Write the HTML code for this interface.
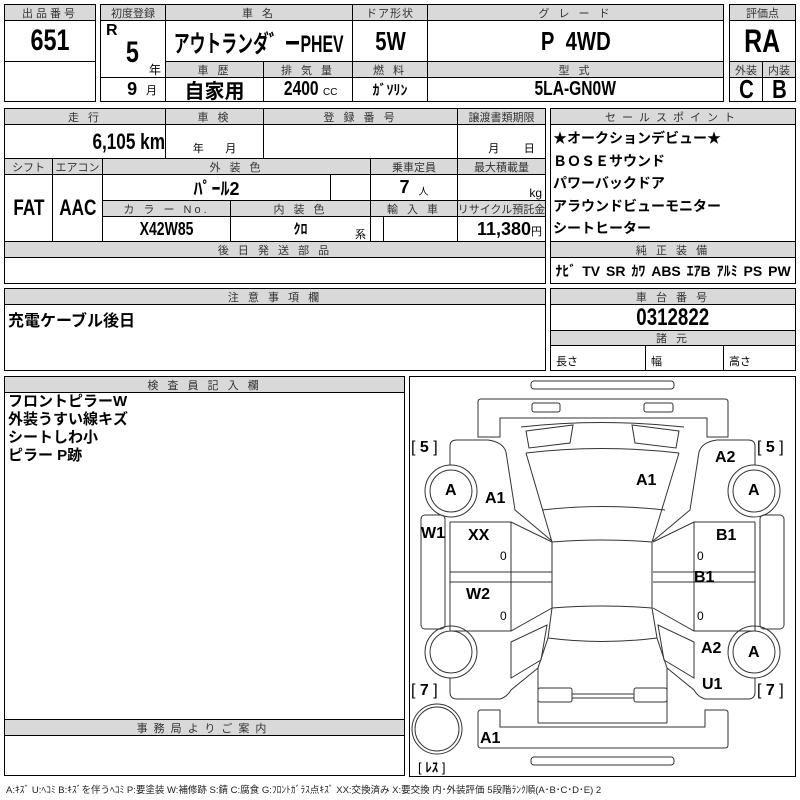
<!DOCTYPE html>
<html><head><meta charset="utf-8">
<style>
*{margin:0;padding:0;box-sizing:border-box}
body{width:800px;height:800px;background:#fff;position:relative;overflow:hidden;font-family:"Liberation Sans","Noto Sans CJK JP",sans-serif;color:#000}
.c{position:absolute;border:1px solid #000;display:flex;align-items:center;justify-content:center;white-space:nowrap;overflow:hidden}
.h{background:#d9d9d9;font-size:11px;letter-spacing:3px;color:#333;font-family:"Liberation Sans","Noto Sans CJK JP",sans-serif}
.b{font-weight:bold;font-size:26px}
.m{font-weight:bold;font-size:18px}
.t{position:absolute;white-space:nowrap}
.j{font-family:"Liberation Sans","Noto Sans CJK JP",sans-serif}
.n{display:inline-block;transform:scaleX(.78)}
</style></head><body>
<!-- box 1 -->
<div class="c" style="left:4px;top:4px;width:92px;height:98px"></div>
<div class="c h" style="left:4px;top:4px;width:92px;height:17px">出品番号</div>
<div class="c b" style="left:4px;top:20px;width:92px;height:42px;font-size:30px"><span class="n">651</span></div>
<!-- box 2 -->
<div class="c" style="left:100px;top:4px;width:624px;height:98px"></div>
<div class="c h" style="left:100px;top:4px;width:66px;height:17px;letter-spacing:0">初度登録</div>
<div class="c h" style="left:165px;top:4px;width:188px;height:17px">車 名</div>
<div class="c h" style="left:352px;top:4px;width:76px;height:17px;letter-spacing:1px">ドア形状</div>
<div class="c h" style="left:427px;top:4px;width:297px;height:17px">グ レ ー ド</div>
<div class="c" style="left:100px;top:20px;width:66px;height:58px"></div>
<div class="t m" style="left:106px;top:22px;font-size:16px">R</div>
<div class="t b" style="left:124px;top:36px;font-size:30px"><span class="n">5</span></div>
<div class="t j" style="left:149px;top:61px;font-size:12px">年</div>
<div class="c" style="left:100px;top:77px;width:66px;height:25px;justify-content:flex-end;padding-right:8px"><span class="m">9</span>&nbsp;&nbsp;<span class="j" style="font-size:11px">月</span></div>
<div class="c b j" style="left:165px;top:20px;width:188px;height:42px;font-size:24px"><span style="display:inline-block;transform:scaleX(.66)">アウトランダ゛ーPHEV</span></div>
<div class="c b" style="left:352px;top:20px;width:76px;height:42px"><span class="n">5W</span></div>
<div class="c b" style="left:427px;top:20px;width:297px;height:42px"><span class="n">P&nbsp;&nbsp;4WD</span></div>
<div class="c h" style="left:165px;top:61px;width:99px;height:17px">車 歴</div>
<div class="c h" style="left:263px;top:61px;width:90px;height:17px">排 気 量</div>
<div class="c h" style="left:352px;top:61px;width:76px;height:17px">燃 料</div>
<div class="c h" style="left:427px;top:61px;width:297px;height:17px">型 式</div>
<div class="c m j" style="left:165px;top:77px;width:99px;height:25px;font-size:20px">自家用</div>
<div class="c" style="left:263px;top:77px;width:90px;height:25px"><span class="m n" style="font-size:20px">2400</span><span style="font-size:10px;margin-top:6px">CC</span></div>
<div class="c j" style="left:352px;top:77px;width:76px;height:25px;font-size:14px;font-weight:bold">ｶﾞｿﾘﾝ</div>
<div class="c m" style="left:427px;top:77px;width:297px;height:25px;font-size:20px"><span class="n">5LA-GN0W</span></div>
<!-- 評価点 -->
<div class="c" style="left:729px;top:4px;width:67px;height:98px"></div>
<div class="c h" style="left:729px;top:4px;width:67px;height:17px;letter-spacing:0">評価点</div>
<div class="c b" style="left:729px;top:20px;width:67px;height:42px;font-size:32px"><span class="n">RA</span></div>
<div class="c h" style="left:729px;top:61px;width:34px;height:17px;letter-spacing:0">外装</div>
<div class="c h" style="left:762px;top:61px;width:34px;height:17px;letter-spacing:0">内装</div>
<div class="c b" style="left:729px;top:77px;width:34px;height:25px"><span class="n">C</span></div>
<div class="c b" style="left:762px;top:77px;width:34px;height:25px"><span class="n">B</span></div>
<!-- section 2 -->
<div class="c" style="left:4px;top:108px;width:542px;height:176px"></div>
<div class="c h" style="left:4px;top:108px;width:162px;height:17px">走 行</div>
<div class="c h" style="left:165px;top:108px;width:99px;height:17px">車 検</div>
<div class="c h" style="left:263px;top:108px;width:195px;height:17px">登 録 番 号</div>
<div class="c h" style="left:457px;top:108px;width:89px;height:17px;letter-spacing:0">譲渡書類期限</div>
<div class="c" style="left:4px;top:124px;width:162px;height:35px;justify-content:flex-end;padding-right:0"><span class="m n" style="font-size:22px;transform-origin:right">6,105 km</span></div>
<div class="c j" style="left:165px;top:124px;width:99px;height:35px;font-size:11px;align-items:flex-end;padding-bottom:2px">年&nbsp;&nbsp;&nbsp;&nbsp;&nbsp;&nbsp;&nbsp;月</div>
<div class="c" style="left:263px;top:124px;width:195px;height:35px"></div>
<div class="c j" style="left:457px;top:124px;width:89px;height:35px;font-size:11px;align-items:flex-end;padding-bottom:2px;padding-left:20px">月&nbsp;&nbsp;&nbsp;&nbsp;&nbsp;&nbsp;&nbsp;&nbsp;日</div>
<div class="c h" style="left:4px;top:158px;width:49px;height:17px;letter-spacing:0">シフト</div>
<div class="c h" style="left:52px;top:158px;width:51px;height:17px;letter-spacing:0">エアコン</div>
<div class="c h" style="left:102px;top:158px;width:269px;height:17px">外 装 色</div>
<div class="c h" style="left:370px;top:158px;width:88px;height:17px;letter-spacing:0">乗車定員</div>
<div class="c h" style="left:457px;top:158px;width:89px;height:17px;letter-spacing:0">最大積載量</div>
<div class="c m" style="left:4px;top:174px;width:49px;height:68px;font-size:22px"><span class="n">FAT</span></div>
<div class="c m" style="left:52px;top:174px;width:51px;height:68px;font-size:22px"><span class="n">AAC</span></div>
<div class="c m j" style="left:102px;top:174px;width:229px;height:27px">ﾊﾟｰﾙ2</div>
<div class="c" style="left:330px;top:174px;width:41px;height:27px"></div>
<div class="c" style="left:370px;top:174px;width:88px;height:27px"><span class="m">7</span>&nbsp;&nbsp;<span class="j" style="font-size:10px;margin-top:6px">人</span></div>
<div class="c" style="left:457px;top:174px;width:89px;height:27px;justify-content:flex-end;padding-right:3px;align-items:flex-end;font-size:12px">kg</div>
<div class="c h" style="left:102px;top:200px;width:129px;height:17px">カ ラ ー No.</div>
<div class="c h" style="left:230px;top:200px;width:141px;height:17px">内 装 色</div>
<div class="c h" style="left:370px;top:200px;width:88px;height:17px">輸 入 車</div>
<div class="c h" style="left:457px;top:200px;width:89px;height:17px;letter-spacing:0">リサイクル預託金</div>
<div class="c m" style="left:102px;top:216px;width:129px;height:26px;font-size:18px"><span class="n">X42W85</span></div>
<div class="c m j" style="left:230px;top:216px;width:141px;height:26px;font-size:14px">ｸﾛ</div>
<div class="t j" style="left:355px;top:226px;font-size:11px">系</div>
<div class="c" style="left:370px;top:216px;width:14px;height:26px"></div>
<div class="c" style="left:383px;top:216px;width:75px;height:26px"></div>
<div class="c" style="left:457px;top:216px;width:89px;height:26px;justify-content:flex-end;padding-right:3px"><span class="m">11,380</span><span class="j" style="font-size:11px;margin-top:4px">円</span></div>
<div class="c h" style="left:4px;top:241px;width:542px;height:17px">後 日 発 送 部 品</div>
<!-- sales -->
<div class="c" style="left:550px;top:108px;width:246px;height:176px"></div>
<div class="c h" style="left:550px;top:108px;width:246px;height:17px;letter-spacing:6px">セールスポイント</div>
<div class="t j" style="left:553px;top:127px;font-size:14px;font-weight:bold;line-height:22.5px">★オークションデビュー★<br>ＢＯＳＥサウンド<br>パワーバックドア<br>アラウンドビューモニター<br>シートヒーター</div>
<div class="c h" style="left:550px;top:241px;width:246px;height:17px">純 正 装 備</div>
<div class="c j" style="left:550px;top:257px;width:246px;height:27px;font-weight:bold;font-size:14px;word-spacing:2px">ﾅﾋﾞ TV SR ｶﾜ ABS ｴｱB ｱﾙﾐ PS PW</div>
<!-- section 3 -->
<div class="c" style="left:4px;top:288px;width:542px;height:83px"></div>
<div class="c h" style="left:4px;top:288px;width:542px;height:17px">注 意 事 項 欄</div>
<div class="t j" style="left:8px;top:307px;font-size:16px;font-weight:bold">充電ケーブル後日</div>
<div class="c" style="left:550px;top:288px;width:246px;height:83px"></div>
<div class="c h" style="left:550px;top:288px;width:246px;height:17px">車 台 番 号</div>
<div class="c b" style="left:550px;top:304px;width:246px;height:27px;font-size:24px"><span class="n">0312822</span></div>
<div class="c h" style="left:550px;top:330px;width:246px;height:16px">諸 元</div>
<div class="c j" style="left:550px;top:345px;width:96px;height:26px;justify-content:flex-start;padding-left:5px;font-size:11px;padding-top:6px">長さ</div>
<div class="c j" style="left:645px;top:345px;width:79px;height:26px;justify-content:flex-start;padding-left:5px;font-size:11px;padding-top:6px">幅</div>
<div class="c j" style="left:723px;top:345px;width:73px;height:26px;justify-content:flex-start;padding-left:5px;font-size:11px;padding-top:6px">高さ</div>
<!-- section 4 -->
<div class="c" style="left:4px;top:376px;width:401px;height:400px"></div>
<div class="c h" style="left:4px;top:376px;width:401px;height:17px">検 査 員 記 入 欄</div>
<div class="t j" style="left:8px;top:393px;font-size:15px;font-weight:bold;line-height:18px">フロントピラーW<br>外装うすい線キズ<br>シートしわ小<br>ピラー P跡</div>
<div class="c h" style="left:4px;top:719px;width:401px;height:17px;letter-spacing:6px">事務局よりご案内</div>
<div class="t j" style="left:6px;top:782px;font-size:9.5px;color:#222">A:ｷｽﾞ U:ﾍｺﾐ B:ｷｽﾞを伴うﾍｺﾐ P:要塗装 W:補修跡 S:錆 C:腐食 G:ﾌﾛﾝﾄｶﾞﾗｽ点ｷｽﾞ XX:交換済み X:要交換 内･外装評価 5段階ﾗﾝｸ順(A･B･C･D･E) 2</div>
<!-- diagram -->
<div class="c" style="left:409px;top:376px;width:387px;height:401px"></div>
<svg style="position:absolute;left:0;top:0" width="800" height="800" fill="none" stroke="#333" stroke-width="1">
<rect x="531" y="381" width="143" height="8" rx="3"/>
<path d="M481,399 L725,399 Q728,399 728,402 L728,437 L707,437 L707,418 L500,418 L500,437 L478,437 L478,402 Q478,399 481,399 Z"/>
<rect x="532" y="403" width="28" height="9" rx="2"/>
<rect x="644" y="403" width="29" height="9" rx="2"/>
<path d="M521,427 Q602,418 684,427"/>
<path d="M526,431 L573,425 L570,443 L529,448 Z"/>
<path d="M679,431 L632,425 L635,443 L676,448 Z"/>
<path d="M526,453 Q602,444 679,453"/>
<path d="M542,510 Q602,503 665,510"/>
<path d="M526,453 L552,542 M679,453 L652,542"/>
<path d="M552,542 Q602,538 652,542 L652,608 Q602,604 552,608 Z"/>
<path d="M552,608 L548,638 L538,668 L538,723 M652,608 L657,638 L667,668 L667,723"/>
<path d="M548,638 Q602,645 657,638"/>
<path d="M538,723 L667,723"/>
<rect x="538" y="688" width="34" height="14" rx="2"/>
<rect x="634" y="688" width="33" height="14" rx="2"/>
<path d="M572,694 L634,694 M572,698 L634,698"/>
<path d="M481,710 L500,710 L500,727 L705,727 L705,710 L725,710 Q728,710 728,713 L728,745 Q728,748 725,748 L481,748 Q478,748 478,745 L478,713 Q478,710 481,710 Z"/>
<rect x="531" y="757" width="143" height="8" rx="3"/>
<g id="half">
<path d="M450,465 L450,446 Q450,440 457,440 L488,440 Q503,442 506,452 L515,510 L552,541"/>
<path d="M450,678 L450,692 Q450,699 457,699 L500,699 Q507,697 511,690 L538,668"/>
<path d="M511,642 L547,625 L541,660 L511,678 Z"/>
<rect x="421" y="515" width="24" height="114" rx="4"/>
<path d="M450,522 L511,522 L552,542 M450,522 L450,631 L511,631 L552,608 M511,522 L511,631 M450,572 L552,572 M450,582 L552,582"/>
<circle cx="451" cy="491" r="26"/><circle cx="451" cy="491" r="21"/>
<circle cx="451" cy="652" r="26"/><circle cx="451" cy="652" r="21"/>
</g>
<g transform="translate(1205,0) scale(-1,1)"><use href="#half"/></g>
<circle cx="437" cy="729" r="25"/><circle cx="437" cy="729" r="22"/>
</svg>
<div style="position:absolute;left:0;top:0;width:800px;height:800px;font-weight:bold;font-size:16px">
<div class="t" style="left:411px;top:439px;font-weight:normal">[ <b>5</b> ]</div>
<div class="t" style="left:757px;top:439px;font-weight:normal">[ <b>5</b> ]</div>
<div class="t" style="left:411px;top:682px;font-weight:normal">[ <b>7</b> ]</div>
<div class="t" style="left:757px;top:682px;font-weight:normal">[ <b>7</b> ]</div>
<div class="t" style="left:445px;top:482px">A</div>
<div class="t" style="left:748px;top:482px">A</div>
<div class="t" style="left:748px;top:644px">A</div>
<div class="t" style="left:485px;top:490px">A1</div>
<div class="t" style="left:636px;top:472px">A1</div>
<div class="t" style="left:715px;top:449px">A2</div>
<div class="t" style="left:421px;top:525px">W1</div>
<div class="t" style="left:468px;top:527px">XX</div>
<div class="t" style="left:466px;top:586px">W2</div>
<div class="t" style="left:716px;top:527px">B1</div>
<div class="t" style="left:694px;top:569px">B1</div>
<div class="t" style="left:701px;top:640px">A2</div>
<div class="t" style="left:702px;top:676px">U1</div>
<div class="t" style="left:480px;top:730px">A1</div>
<div class="t" style="left:500px;top:549px;font-weight:normal;font-size:12px">0</div>
<div class="t" style="left:500px;top:609px;font-weight:normal;font-size:12px">0</div>
<div class="t" style="left:697px;top:549px;font-weight:normal;font-size:12px">0</div>
<div class="t" style="left:697px;top:609px;font-weight:normal;font-size:12px">0</div>
<div class="t j" style="left:418px;top:757px;font-weight:normal;font-size:13px">[ <b>ﾚｽ</b> ]</div>
</div>
</body></html>
